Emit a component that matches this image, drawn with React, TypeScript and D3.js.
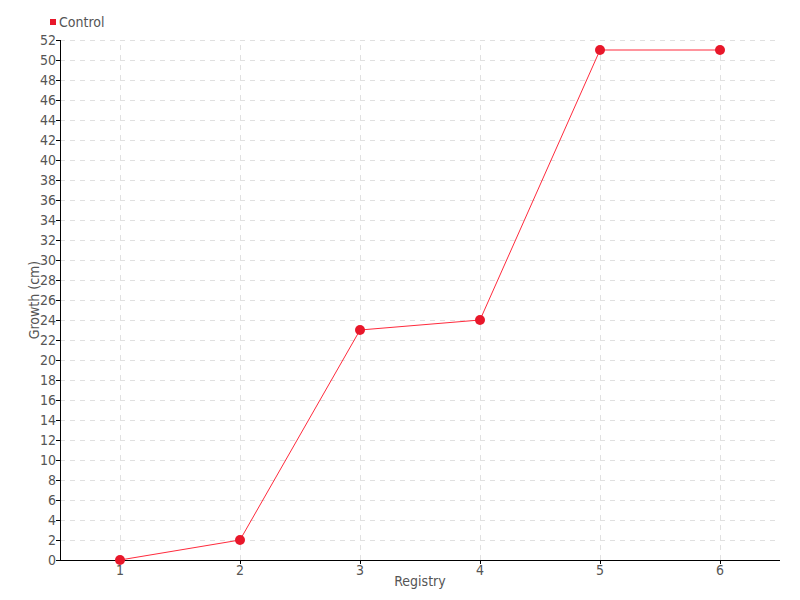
import React from "react";
import * as d3 from "d3";

const categories = [1, 2, 3, 4, 5, 6];
const controlValues = [0, 2, 23, 24, 51, 51];
const yTicks = d3.range(0, 53, 2);

const W = 800, H = 600;
const M = { left: 60, right: 20, top: 40, bottom: 40 };
const FONT = "'Liberation Sans Narrow', 'DejaVu Sans Condensed', 'Roboto', sans-serif";

export default function App() {
  const x = d3.scaleLinear().domain([0.5, 6.5]).range([M.left, W - M.right]);
  const y = d3.scaleLinear().domain([0, 52]).range([H - M.bottom, M.top]);
  const line = d3.line<number>().x((_, i) => x(categories[i])).y((d) => y(d));
  const x0 = M.left, x1 = W - M.right, y0 = H - M.bottom, y1 = M.top;
  return (
    <svg width={W} height={H} style={{ position: "absolute", left: 0, top: 0, background: "#fff" }} fontFamily={FONT}>
      {yTicks.slice(1).map((t) => (
        <line key={"gy" + t} x1={x0} x2={x1} y1={y(t)} y2={y(t)} stroke="#e0e0e0" strokeDasharray="5,5" shapeRendering="crispEdges" />
      ))}
      {categories.map((c) => (
        <line key={"gx" + c} x1={x(c)} x2={x(c)} y1={y0} y2={y1} stroke="#e0e0e0" strokeDasharray="5,5" shapeRendering="crispEdges" />
      ))}
      <line x1={x0} x2={x0} y1={y0} y2={y1} stroke="#000" shapeRendering="crispEdges" />
      <line x1={x0} x2={x1} y1={y0} y2={y0} stroke="#000" shapeRendering="crispEdges" />
      {yTicks.map((t) => (
        <g key={"ty" + t}>
          <line x1={x0 - 4} x2={x0} y1={y(t)} y2={y(t)} stroke="#000" shapeRendering="crispEdges" />
          <text x={x0 - 4} y={y(t)} dy="0.35em" textAnchor="end" fontSize={14} fill="#555">{t}</text>
        </g>
      ))}
      {categories.map((c) => (
        <g key={"tx" + c}>
          <line x1={x(c)} x2={x(c)} y1={y0} y2={y0 + 4} stroke="#000" shapeRendering="crispEdges" />
          <text x={x(c)} y={y0 + 15} textAnchor="middle" fontSize={14} fill="#555">{c}</text>
        </g>
      ))}
      <text x={(x0 + x1) / 2} y={586} textAnchor="middle" fontSize={14} fill="#555">Registry</text>
      <text transform={`translate(39,${(y0 + y1) / 2}) rotate(-90)`} textAnchor="middle" fontSize={14} fill="#555">Growth (cm)</text>
      <path d={line(controlValues) || ""} fill="none" stroke="#ff2a3c" strokeWidth={1} />
      {controlValues.map((v, i) => (
        <circle key={"p" + i} cx={x(categories[i])} cy={y(v)} r={5} fill="#e8172a" />
      ))}
      <rect x={50} y={19} width={6} height={6} fill="#e8172a" />
      <text x={59} y={27} fontSize={14} fill="#555">Control</text>
    </svg>
  );
}
